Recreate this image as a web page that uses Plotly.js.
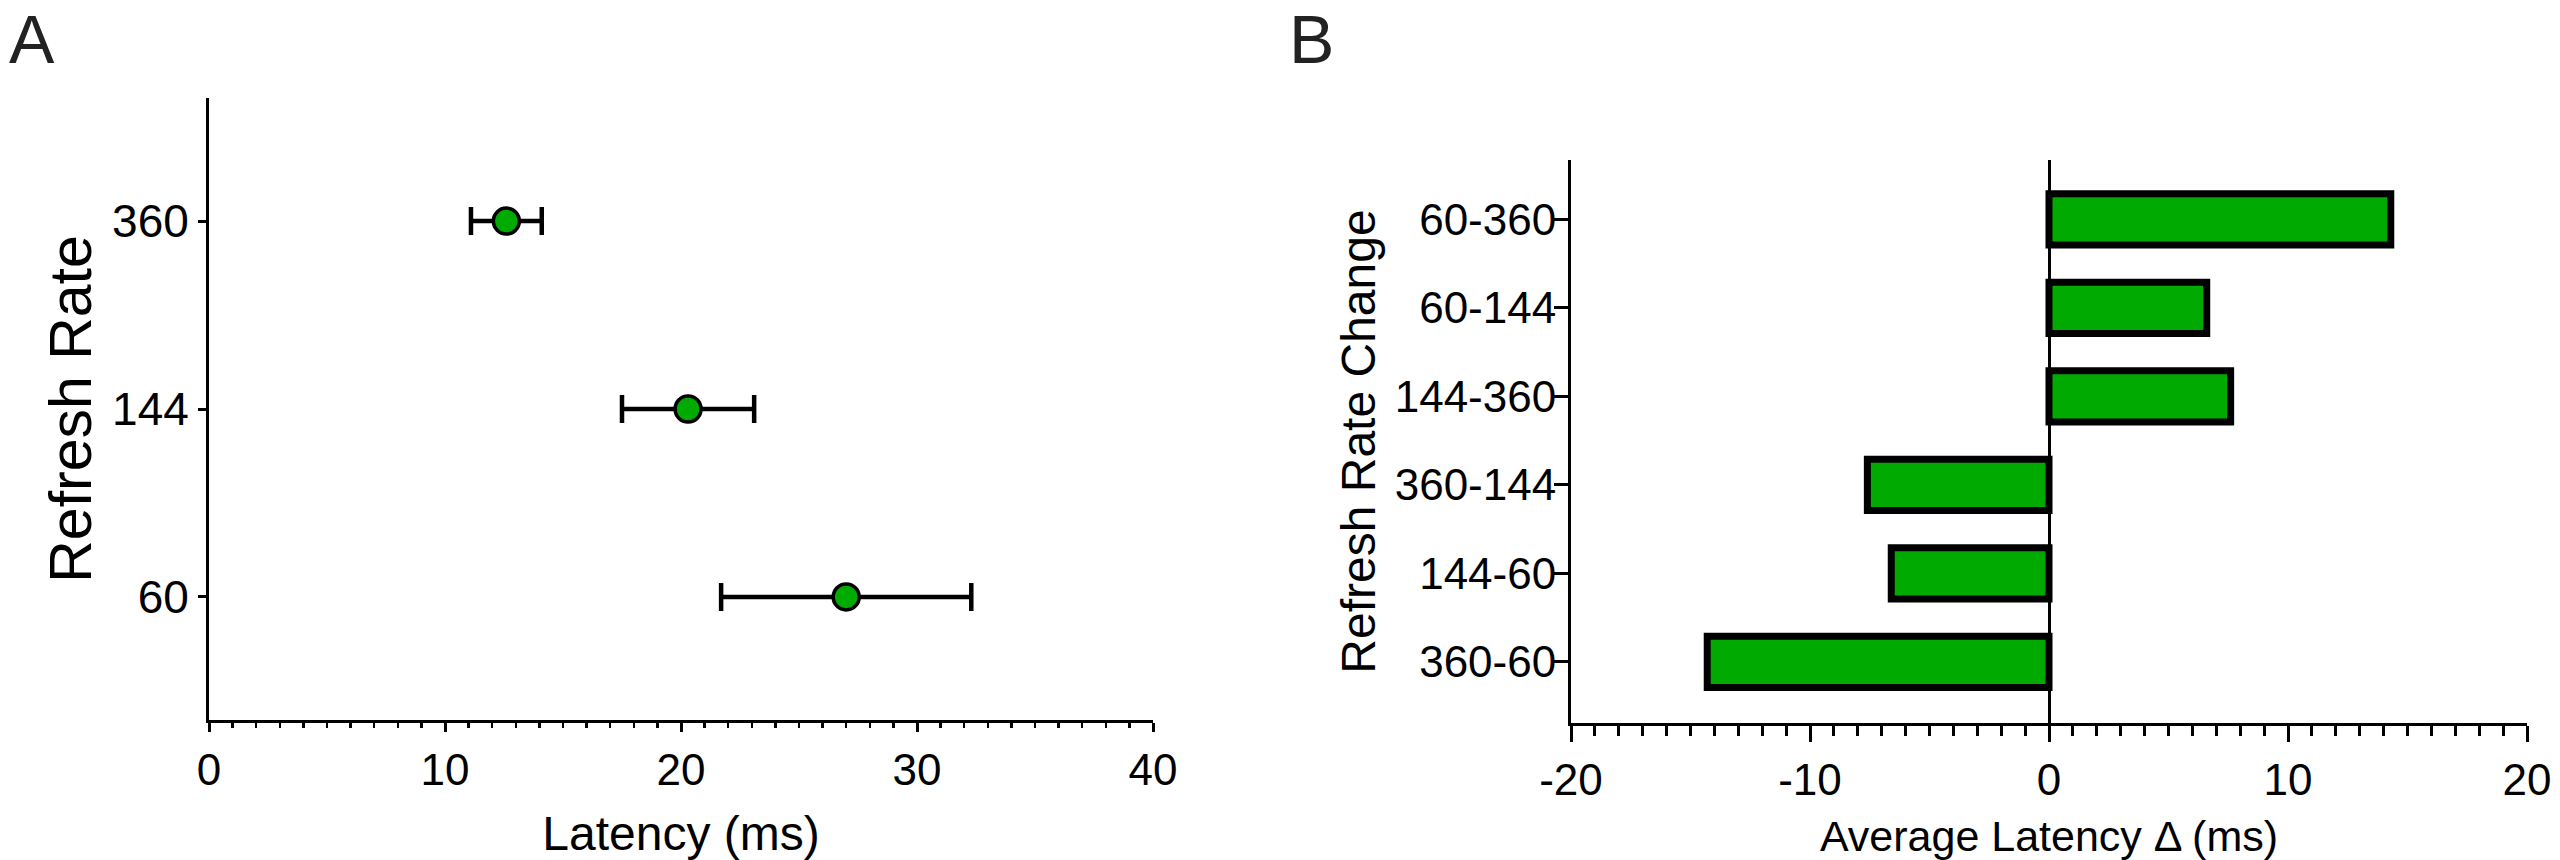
<!DOCTYPE html>
<html>
<head>
<meta charset="utf-8">
<script src="https://cdn.plot.ly/plotly-3.0.1.min.js"></script>
<style>html,body{margin:0;padding:0;background:#fff;}#chart{width:2560px;height:860px;}</style>
</head>
<body>
<div id="chart"></div>
<script>
// Panel A data
const refreshRates = ['60', '144', '360'];
const latencyMean = [27.0, 20.3, 12.6];
const latencyErr = [5.3, 2.8, 1.5];
const latencyTicks = [0, 10, 20, 30, 40];
// Panel B data
const changeLabels = ['360-60', '144-60', '360-144', '144-360', '60-144', '60-360'];
const avgDelta = [-14.3, -6.6, -7.6, 7.6, 6.6, 14.3];
const deltaTicks = [-20, -10, 0, 10, 20];
const deltaTickText = ['-20', '-10', '0', '10', '20'];

const W = 2560, H = 860;
const GREEN = '#00AA00';
const FONT = "'Liberation Sans', Arial, sans-serif";
const px = v => v / W;
const py = v => 1 - v / H;

const traces = [
  {
    type: 'scatter', mode: 'markers',
    x: latencyMean, y: refreshRates,
    xaxis: 'x', yaxis: 'y',
    marker: {size: 26, color: GREEN, line: {width: 3.5, color: '#000'}},
    error_x: {type: 'data', array: latencyErr, visible: true, thickness: 4.5, width: 14, color: '#000'},
    showlegend: false, hoverinfo: 'x+y'
  },
  {
    type: 'bar', orientation: 'h',
    x: avgDelta, y: changeLabels,
    xaxis: 'x2', yaxis: 'y2',
    width: 0.58,
    marker: {color: GREEN, line: {width: 7, color: '#000'}},
    showlegend: false
  }
];

const axisCommon = {
  showline: true, linecolor: '#000', linewidth: 3,
  showgrid: false, ticks: 'outside', tickcolor: '#000', tickwidth: 3,
  fixedrange: true
};

const layout = {
  width: W, height: H,
  margin: {l: 0, r: 0, t: 0, b: 0, pad: 0},
  paper_bgcolor: '#fff', plot_bgcolor: '#fff',
  font: {family: FONT, color: '#000'},
  showlegend: false,
  xaxis: Object.assign({}, axisCommon, {
    domain: [px(209), px(1153)], anchor: 'y',
    range: [0, 40], tickmode: 'array', tickvals: latencyTicks, ticklen: 9,
    zeroline: false,
    minor: {dtick: 1, ticks: 'outside', ticklen: 5, tickwidth: 2.5, tickcolor: '#000'},
    tickfont: {size: 44, family: FONT},
    title: {text: 'Latency (ms)', font: {size: 48, family: FONT}, standoff: 25}
  }),
  yaxis: Object.assign({}, axisCommon, {
    domain: [py(720), py(98)], anchor: 'x',
    type: 'category', categoryorder: 'array', categoryarray: refreshRates,
    range: [-0.655, 2.655], ticklen: 8, zeroline: false,
    tickfont: {size: 46, family: FONT},
    title: {text: 'Refresh Rate', font: {size: 59, family: FONT}, standoff: 2}
  }),
  xaxis2: Object.assign({}, axisCommon, {
    domain: [px(1571), px(2527)], anchor: 'y2',
    range: [-20, 20], tickmode: 'array', tickvals: deltaTicks, ticktext: deltaTickText, ticklen: 16,
    zeroline: true, zerolinecolor: '#000', zerolinewidth: 3,
    minor: {dtick: 1, ticks: 'outside', ticklen: 10, tickwidth: 3, tickcolor: '#000'},
    tickfont: {size: 44, family: FONT},
    title: {text: 'Average Latency Δ (ms)', font: {size: 43, family: FONT}, standoff: 20}
  }),
  yaxis2: Object.assign({}, axisCommon, {
    domain: [py(723), py(160)], anchor: 'x2',
    type: 'category', categoryorder: 'array', categoryarray: changeLabels,
    range: [-0.69, 5.67], ticklen: 14, zeroline: false,
    ticklabelstandoff: -11,
    tickfont: {size: 44, family: FONT},
    title: {text: 'Refresh Rate Change', font: {size: 48, family: FONT}, standoff: 4}
  }),
  annotations: [
    {text: 'A', xref: 'paper', yref: 'paper', x: px(8), y: py(0), xanchor: 'left', yanchor: 'top',
     borderpad: 0, showarrow: false, font: {size: 68, family: FONT, color: '#222'}},
    {text: 'B', xref: 'paper', yref: 'paper', x: px(1288), y: py(0), xanchor: 'left', yanchor: 'top',
     borderpad: 0, showarrow: false, font: {size: 68, family: FONT, color: '#222'}}
  ]
};

Plotly.newPlot('chart', traces, layout, {displayModeBar: false, staticPlot: true});
</script>
</body>
</html>
